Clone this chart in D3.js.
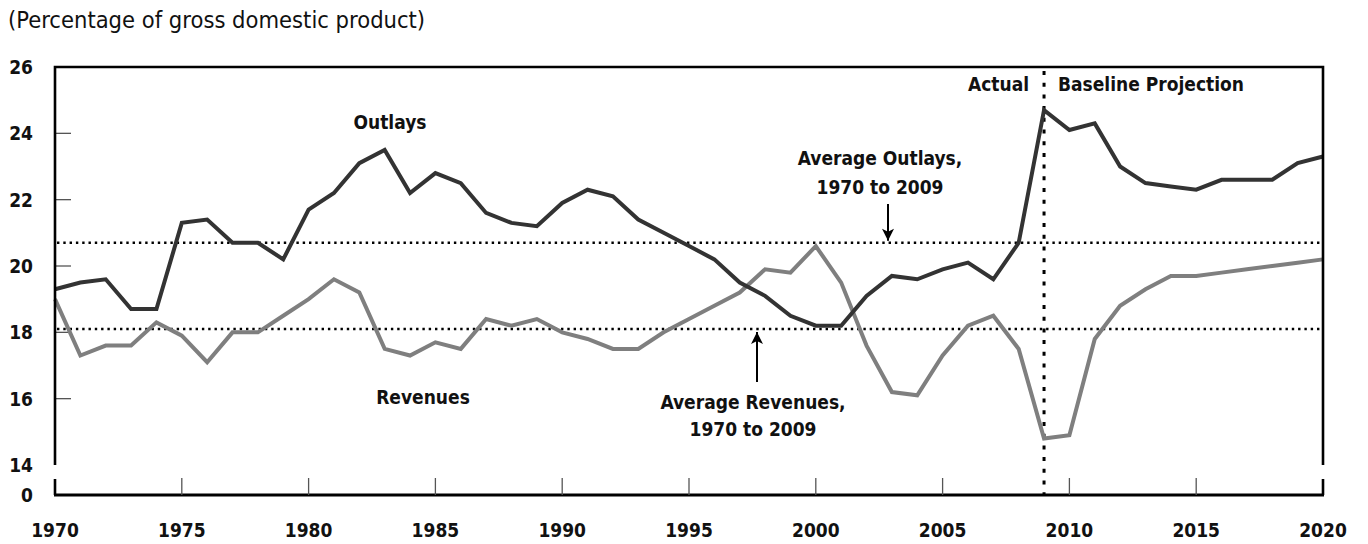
<!DOCTYPE html>
<html>
<head>
<meta charset="utf-8">
<script src="https://cdn.jsdelivr.net/npm/d3@7"></script>
<style>
	body { margin: 0; background: #fff; }
	svg text { font-family: "DejaVu Sans Condensed", "DejaVu Sans", sans-serif; fill: #111; }
	.bold { font-weight: bold; }
</style>
</head>
<body>
<div id="chart"></div>
<script>
'use strict'
var years = d3.range(1970, 2021);
var outlays = [19.3, 19.5, 19.6, 18.7, 18.7, 21.3, 21.4, 20.7, 20.7, 20.2,
	21.7, 22.2, 23.1, 23.5, 22.2, 22.8, 22.5, 21.6, 21.3, 21.2,
	21.9, 22.3, 22.1, 21.4, 21.0, 20.6, 20.2, 19.5, 19.1, 18.5,
	18.2, 18.2, 19.1, 19.7, 19.6, 19.9, 20.1, 19.6, 20.7, 24.7,
	24.1, 24.3, 23.0, 22.5, 22.4, 22.3, 22.6, 22.6, 22.6, 23.1, 23.3];
var revenues = [19.0, 17.3, 17.6, 17.6, 18.3, 17.9, 17.1, 18.0, 18.0, 18.5,
	19.0, 19.6, 19.2, 17.5, 17.3, 17.7, 17.5, 18.4, 18.2, 18.4,
	18.0, 17.8, 17.5, 17.5, 18.0, 18.4, 18.8, 19.2, 19.9, 19.8,
	20.6, 19.5, 17.6, 16.2, 16.1, 17.3, 18.2, 18.5, 17.5, 14.8,
	14.9, 17.8, 18.8, 19.3, 19.7, 19.7, 19.8, 19.9, 20.0, 20.1, 20.2];
var avgOutlays = 20.7;
var avgRevenues = 18.1;
var splitYear = 2009;
var yTicks = [14, 16, 18, 20, 22, 24, 26];
var xTicks = [1970, 1975, 1980, 1985, 1990, 1995, 2000, 2005, 2010, 2015, 2020];

var W = 1368, H = 544;
var pLeft = 55, pRight = 1323, pTop = 67, pBottom = 465, axisY = 495;

var svg = d3.select("#chart").append("svg")
	.attr("width", W).attr("height", H);

var x = d3.scaleLinear().domain([1970, 2020]).range([pLeft, pRight]);
var y = d3.scaleLinear().domain([14, 26]).range([pBottom, pTop]);

// subtitle
svg.append("text")
	.attr("x", 8).attr("y", 28)
	.style("font-size", "23.5px")
	.text("(Percentage of gross domestic product)");

// y ticks inside frame (grey, short)
svg.append("g").selectAll("line")
	.data(yTicks.filter(function(d){ return d > 14 && d < 26; }))
	.enter().append("line")
	.attr("x1", pLeft).attr("x2", pLeft + 16)
	.attr("y1", function(d){ return y(d); })
	.attr("y2", function(d){ return y(d); })
	.style("stroke", "#555").style("stroke-width", 1.3);

// y tick labels
svg.append("g").selectAll("text")
	.data(yTicks)
	.enter().append("text")
	.attr("class", "bold")
	.attr("x", 33).attr("y", function(d){ return y(d); })
	.attr("dy", "0.36em")
	.attr("text-anchor", "end")
	.style("font-size", "19px")
	.text(function(d){ return d; });
svg.append("text")
	.attr("class", "bold")
	.attr("x", 33).attr("y", axisY).attr("dy", "0.36em")
	.attr("text-anchor", "end")
	.style("font-size", "19px")
	.text("0");

// average reference lines
[avgOutlays, avgRevenues].forEach(function(v){
	svg.append("line")
		.attr("x1", pLeft + 2).attr("x2", pRight - 2)
		.attr("y1", y(v)).attr("y2", y(v))
		.style("stroke", "#000").style("stroke-width", 2.4)
		.style("stroke-dasharray", "2.4,3.9");
});

// actual / projection divider
svg.append("line")
	.attr("x1", x(splitYear)).attr("x2", x(splitYear))
	.attr("y1", pTop + 4).attr("y2", axisY)
	.style("stroke", "#000").style("stroke-width", 3)
	.style("stroke-dasharray", "4,7.7");

// series
var line = d3.line()
	.x(function(d, i){ return x(years[i]); })
	.y(function(d){ return y(d); });
svg.append("path").datum(revenues)
	.attr("d", line)
	.style("fill", "none").style("stroke", "#7f7f7f")
	.style("stroke-width", 4).style("stroke-linejoin", "miter");
svg.append("path").datum(outlays)
	.attr("d", line)
	.style("fill", "none").style("stroke", "#333")
	.style("stroke-width", 4).style("stroke-linejoin", "miter");

// frame: top and the two sides, broken above the zero axis
svg.append("path")
	.attr("d", "M" + pLeft + "," + pBottom + "V" + pTop + "H" + pRight + "V" + pBottom)
	.style("fill", "none").style("stroke", "#000").style("stroke-width", 2.6);

// bottom axis with stubs
svg.append("line")
	.attr("x1", pLeft - 1).attr("x2", pRight + 1)
	.attr("y1", axisY).attr("y2", axisY)
	.style("stroke", "#000").style("stroke-width", 3);
[pLeft, pRight].forEach(function(px){
	svg.append("line")
		.attr("x1", px).attr("x2", px)
		.attr("y1", axisY - 16).attr("y2", axisY)
		.style("stroke", "#000").style("stroke-width", 2.6);
});
svg.append("g").selectAll("line")
	.data(xTicks.filter(function(d){ return d > 1970 && d < 2020; }))
	.enter().append("line")
	.attr("x1", function(d){ return x(d); })
	.attr("x2", function(d){ return x(d); })
	.attr("y1", axisY - 17).attr("y2", axisY)
	.style("stroke", "#555").style("stroke-width", 1.3);
svg.append("g").selectAll("text")
	.data(xTicks)
	.enter().append("text")
	.attr("class", "bold")
	.attr("x", function(d){ return x(d); })
	.attr("y", 530).attr("dy", "0.36em")
	.attr("text-anchor", "middle")
	.style("font-size", "19px")
	.text(function(d){ return d; });

// labels
function label(tx, ty, str, anchor){
	svg.append("text")
		.attr("class", "bold")
		.attr("x", tx).attr("y", ty).attr("dy", "0.36em")
		.attr("text-anchor", anchor || "middle")
		.style("font-size", "19px")
		.text(str);
}
label(390, 122, "Outlays");
label(423, 397, "Revenues");
label(880, 158, "Average Outlays,");
label(880, 187, "1970 to 2009");
label(753, 402, "Average Revenues,");
label(753, 429, "1970 to 2009");
label(x(splitYear) - 15, 84, "Actual", "end");
label(x(splitYear) + 14, 84, "Baseline Projection", "start");

// arrows
svg.append("defs").append("marker")
	.attr("id", "arr")
	.attr("viewBox", "0 0 10 10")
	.attr("refX", 10).attr("refY", 5)
	.attr("markerWidth", 13).attr("markerHeight", 12)
	.attr("markerUnits", "userSpaceOnUse")
	.attr("orient", "auto")
	.append("path").attr("d", "M0,0L10,5L0,10L2.5,5Z").style("fill", "#000");
svg.append("line")
	.attr("x1", 888).attr("x2", 888)
	.attr("y1", 204).attr("y2", y(avgOutlays) - 2)
	.style("stroke", "#000").style("stroke-width", 2)
	.attr("marker-end", "url(#arr)");
svg.append("line")
	.attr("x1", 757).attr("x2", 757)
	.attr("y1", 382).attr("y2", y(avgRevenues) + 3)
	.style("stroke", "#000").style("stroke-width", 2)
	.attr("marker-end", "url(#arr)");
</script>
</body>
</html>
